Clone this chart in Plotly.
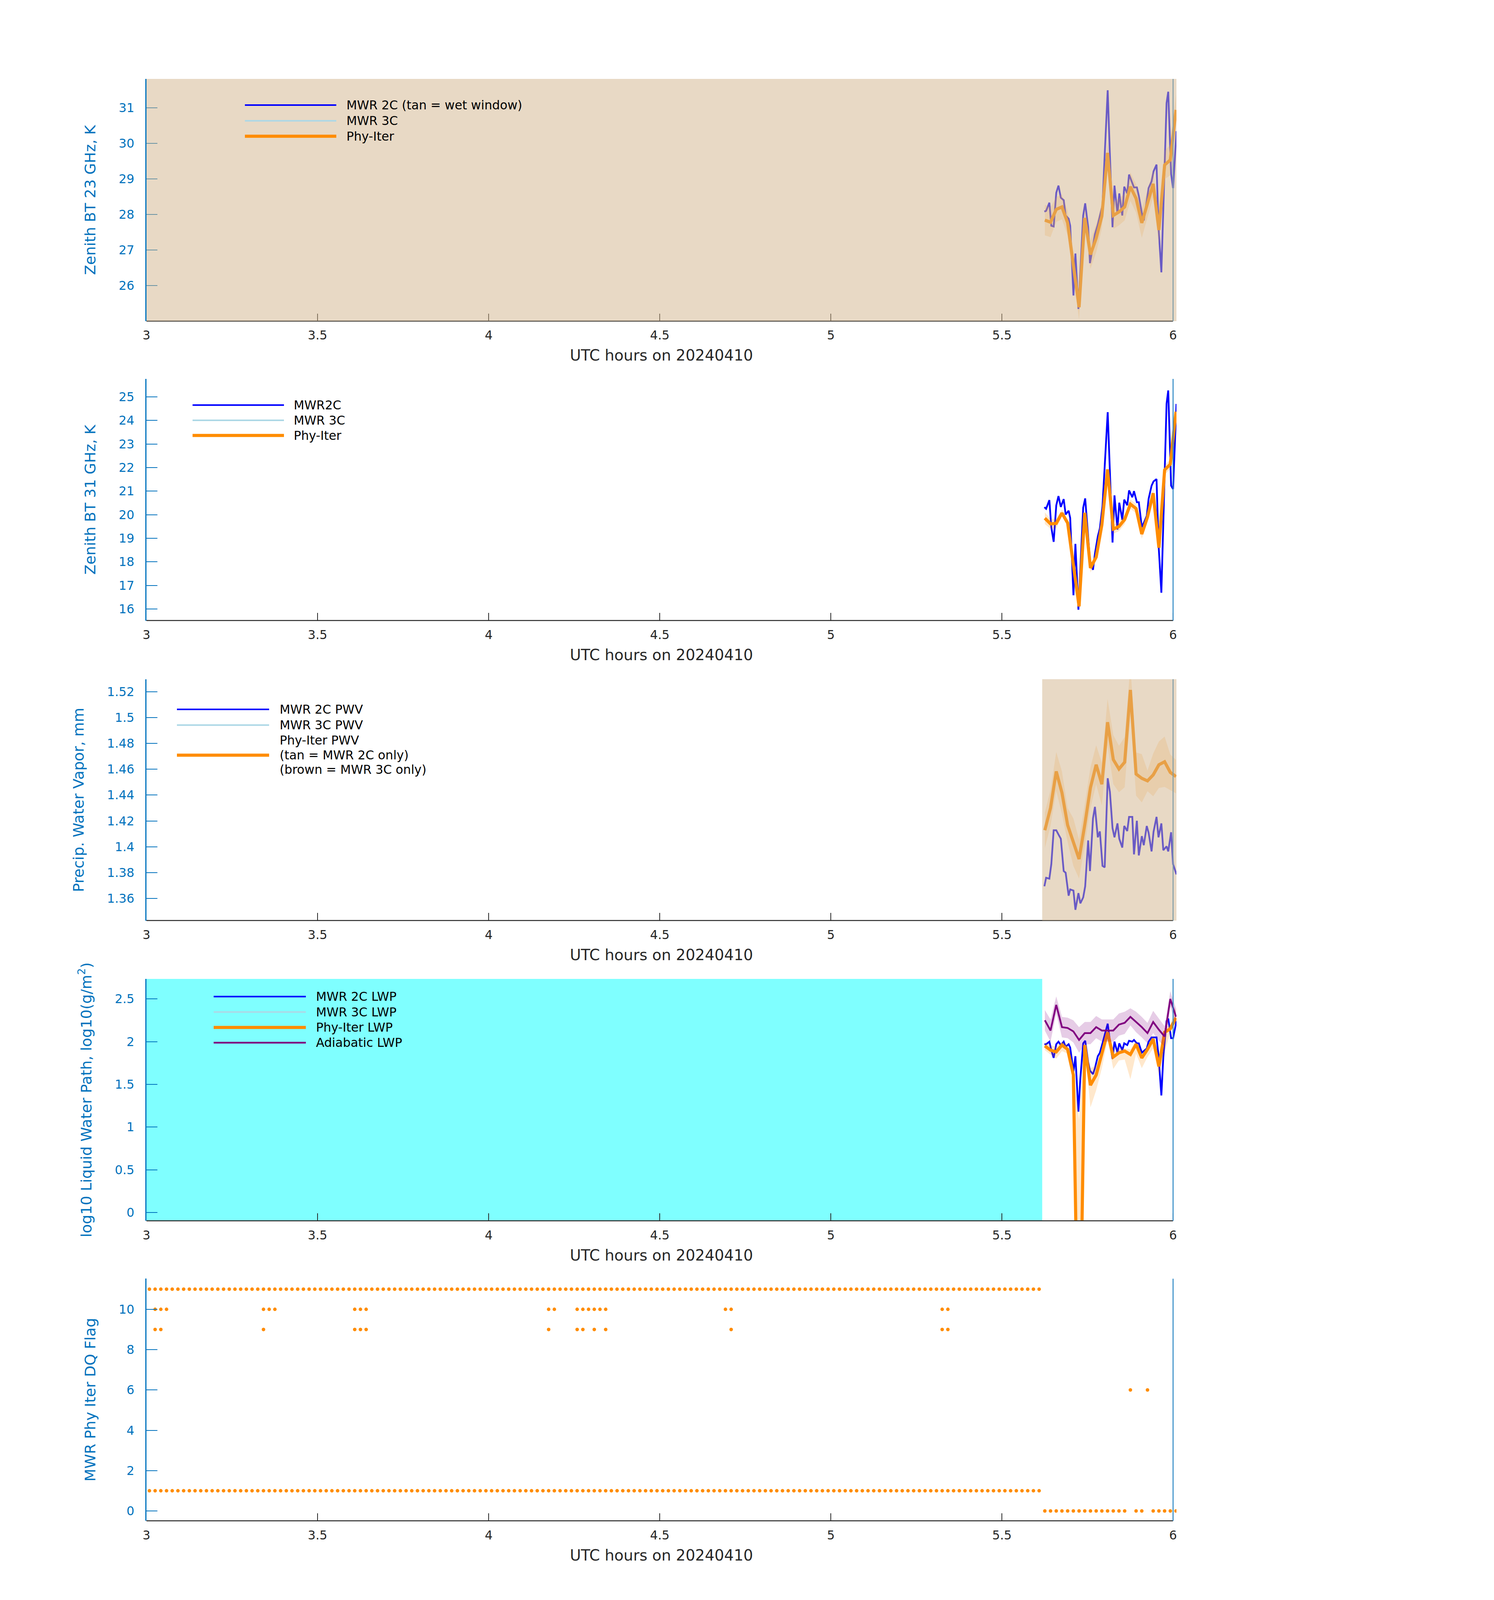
import plotly.graph_objects as go

W, H = 3825, 6000
FONT = "DejaVu Sans"
AX_BLUE = "#0072BD"
DARK = "#262626"
C_2C = "#0000FF"
C_3C = "#ADD8E6"
C_PHY = "#FF8C00"
C_ADI = "#800080"

# ---------------- data ----------------
# Phy-Iter retrieval times (UTC hours, 1-min cadence)
t_ret = [5.6253, 5.6419, 5.6586, 5.6753, 5.6919, 5.7086, 5.7253, 5.7419,
         5.7586, 5.7753, 5.7919, 5.8086, 5.8253, 5.8419, 5.8586, 5.8753,
         5.8919, 5.9086, 5.9253, 5.9419, 5.9586, 5.9753, 5.9919, 6.0086]
# MWR 2C sample times (UTC hours)
t_mwr = [5.6240, 5.6290, 5.6385, 5.6442, 5.6511, 5.6587, 5.6651, 5.6720, 5.6804, 5.6861,
         5.6948, 5.6994, 5.7089, 5.7146, 5.7234, 5.7291, 5.7374, 5.7432, 5.7519, 5.7572,
         5.7660, 5.7717, 5.7801, 5.7861, 5.7938, 5.8002, 5.8090, 5.8154, 5.8231, 5.8288,
         5.8375, 5.8428, 5.8516, 5.8573, 5.8661, 5.8714, 5.8809, 5.8858, 5.8942, 5.8999,
         5.9087, 5.9144, 5.9231, 5.9285, 5.9372, 5.9429, 5.9517, 5.9574, 5.9658, 5.9715,
         5.9810, 5.9859, 5.9943, 6.0000, 6.0099]

bt23_2c = [28.08, 28.10, 28.33, 27.68, 27.66, 28.61, 28.81, 28.47, 28.40, 27.97,
           27.88, 27.68, 25.72, 26.90, 25.34, 26.42, 27.97, 28.31, 27.64, 26.63,
           27.09, 27.44, 27.71, 27.95, 28.26, 29.67, 31.49, 29.67, 27.64, 28.81,
           28.02, 28.59, 27.97, 28.78, 28.59, 29.12, 28.90, 28.76, 28.76, 28.52,
           28.04, 27.83, 28.38, 28.74, 28.93, 29.21, 29.40, 27.66, 26.37, 28.14,
           31.13, 31.45, 29.14, 28.74, 30.34]
bt23_phy = [27.84, 27.78, 28.14, 28.21, 27.76, 26.61, 25.39, 27.90, 26.87, 27.33, 27.95, 29.73,
            27.97, 28.07, 28.21, 28.78, 28.45, 27.76, 28.29, 28.86, 27.56, 29.39, 29.53, 30.94]
bt23_phy_err = [0.43, 0.42, 0.35, 0.35, 0.35, 0.35, 0.35, 0.30, 0.40, 0.40, 0.35, 0.30,
                0.38, 0.38, 0.38, 0.40, 0.40, 0.42, 0.38, 0.38, 0.38, 0.40, 0.43, 0.45]

bt31_2c = [20.32, 20.25, 20.62, 19.47, 18.85, 20.40, 20.79, 20.33, 20.66, 20.01,
           20.17, 19.86, 16.58, 18.76, 15.97, 17.71, 20.30, 20.69, 19.15, 18.06,
           17.66, 18.35, 19.08, 19.42, 20.37, 22.04, 24.35, 21.81, 18.82, 20.82,
           19.37, 20.51, 19.78, 20.64, 20.40, 21.03, 20.74, 21.00, 20.53, 20.53,
           19.47, 19.65, 19.95, 20.67, 21.23, 21.41, 21.51, 18.78, 16.69, 19.65,
           24.71, 25.27, 21.23, 21.09, 24.70]
bt31_phy = [19.85, 19.61, 19.63, 20.07, 19.65, 17.92, 16.11, 20.08, 17.74, 18.20, 19.57, 21.92,
            19.39, 19.50, 19.80, 20.45, 20.26, 19.18, 19.90, 20.91, 18.60, 21.90, 22.14, 24.37]
bt31_phy_err = [0.25, 0.20, 0.20, 0.15, 0.15, 0.15, 0.10, 0.15, 0.20, 0.15, 0.15, 0.15,
                0.20, 0.20, 0.20, 0.20, 0.20, 0.20, 0.15, 0.20, 0.15, 0.20, 0.20, 0.20]

pwv_2c = [1.3694, 1.3760, 1.3753, 1.3865, 1.4128, 1.4128, 1.4095, 1.4062, 1.3812, 1.3799,
          1.3621, 1.3670, 1.3661, 1.3512, 1.3641, 1.3562, 1.3608, 1.3694, 1.4049, 1.3812,
          1.4220, 1.4309, 1.4073, 1.4119, 1.3852, 1.3841, 1.4530, 1.4425, 1.4144, 1.4073,
          1.4181, 1.4062, 1.3994, 1.4161, 1.4122, 1.4231, 1.4231, 1.3941, 1.4201, 1.3933,
          1.4082, 1.4012, 1.4161, 1.4109, 1.3964, 1.4115, 1.4231, 1.4073, 1.4181, 1.3973,
          1.4003, 1.3964, 1.4112, 1.3865, 1.3786]
pwv_phy = [1.4128, 1.4300, 1.4583, 1.4418, 1.4168, 1.4036, 1.3905, 1.4168, 1.4458, 1.4635,
           1.4484, 1.4964, 1.4675, 1.4602, 1.4655, 1.5214, 1.4563, 1.4530, 1.4510, 1.4556,
           1.4635, 1.4658, 1.4576, 1.4543]
pwv_phy_err = [0.0138, 0.0138, 0.0151, 0.0165, 0.0132, 0.0184, 0.0151, 0.0158, 0.0158, 0.0151,
               0.0165, 0.0180, 0.0190, 0.0180, 0.0194, 0.0190, 0.0167, 0.0187, 0.0080, 0.0165,
               0.0180, 0.0195, 0.0138, 0.0130]

lwp_2c = [1.97, 1.97, 2.00, 1.90, 1.81, 1.97, 2.00, 1.96, 2.00, 1.94,
          1.97, 1.93, 1.65, 1.83, 1.18, 1.57, 1.98, 2.01, 1.76, 1.66,
          1.62, 1.69, 1.83, 1.87, 1.98, 2.08, 2.21, 2.01, 1.80, 2.00,
          1.87, 1.98, 1.90, 1.98, 1.96, 2.01, 2.00, 2.02, 1.98, 1.98,
          1.87, 1.89, 1.92, 2.00, 2.05, 2.05, 2.05, 1.84, 1.37, 1.82,
          2.24, 2.27, 2.04, 2.04, 2.24]
lwp_phy = [1.95, 1.90, 1.88, 1.96, 1.91, 1.61, -2.40, 1.96, 1.49, 1.61, 1.86, 2.11,
           1.82, 1.87, 1.89, 1.85, 1.97, 1.81, 1.91, 2.03, 1.71, 2.11, 2.15, 2.28]
lwp_phy_hi = [1.99, 1.96, 1.94, 2.00, 1.96, 1.69, 1.09, 2.01, 1.69, 1.72, 1.91, 2.13,
              1.86, 1.92, 1.92, 1.91, 2.01, 1.84, 1.94, 2.08, 1.75, 2.16, 2.20, 2.40]
lwp_phy_lo = [1.90, 1.85, 1.80, 1.89, 1.86, 1.53, -2.60, 1.91, 1.23, 1.43, 1.69, 2.02,
              1.68, 1.78, 1.79, 1.56, 1.86, 1.69, 1.82, 1.92, 1.61, 1.88, 2.11, 2.24]
lwp_adi = [2.25, 2.13, 2.43, 2.17, 2.16, 2.12, 2.02, 2.10, 2.10, 2.17, 2.13, 2.13,
           2.13, 2.20, 2.22, 2.29, 2.23, 2.17, 2.10, 2.23, 2.14, 2.06, 2.50, 2.29]
lwp_adi_err = [0.12, 0.13, 0.10, 0.12, 0.12, 0.13, 0.15, 0.13, 0.13, 0.13, 0.13, 0.13,
               0.13, 0.13, 0.13, 0.10, 0.12, 0.12, 0.12, 0.13, 0.13, 0.12, 0.09, 0.10]

# DQ flags on the 1-minute grid starting at 03:00:31 UTC (181 minutes)
flag_t0 = 3.0086
flag11_idx = list(range(0, 157))
flag1_idx = list(range(0, 157))
flag10_idx = [1, 2, 3, 20, 21, 22, 36, 37, 38, 70, 71, 75, 76, 77, 78, 79, 80, 101, 102, 139, 140]
flag9_idx = [1, 2, 20, 36, 37, 38, 70, 75, 76, 78, 80, 102, 139, 140]
flag6_idx = [172, 175]
flag0_idx = [i for i in range(157, 181) if i not in (172, 175)]

# shaded windows (UTC hours)
wet_window_23 = [3.0, 6.0099]
tan_window_pwv = [5.6176, 6.0099]
cyan_window_lwp = [3.0, 5.6176]

x_ticks = [3, 3.5, 4, 4.5, 5, 5.5, 6]
x_ticktext = ["3", "3.5", "4", "4.5", "5", "5.5", "6"]

# ---------------- layout ----------------
X0, X1 = 375, 3012
XR = [3.0, 6.0099]

panels = [
    dict(top=296, bot=1204, yr=[25.0, 31.81], tv=[26, 27, 28, 29, 30, 31],
         tt=["26", "27", "28", "29", "30", "31"], title="Zenith BT 23 GHz, K"),
    dict(top=1421, bot=2327, yr=[15.51, 25.76], tv=list(range(16, 26)),
         tt=[str(v) for v in range(16, 26)], title="Zenith BT 31 GHz, K"),
    dict(top=2547, bot=3452, yr=[1.3429, 1.5297],
         tv=[1.36, 1.38, 1.40, 1.42, 1.44, 1.46, 1.48, 1.50, 1.52],
         tt=["1.36", "1.38", "1.4", "1.42", "1.44", "1.46", "1.48", "1.5", "1.52"],
         title="Precip. Water Vapor, mm"),
    dict(top=3671, bot=4578, yr=[-0.097, 2.734], tv=[0, 0.5, 1, 1.5, 2, 2.5],
         tt=["0", "0.5", "1", "1.5", "2", "2.5"],
         title="log10 Liquid Water Path, log10(g/m<sup>2</sup>)"),
    dict(top=4795, bot=5703, yr=[-0.49, 11.52], tv=[0, 2, 4, 6, 8, 10],
         tt=["0", "2", "4", "6", "8", "10"], title="MWR Phy Iter DQ Flag"),
]


def ax(k, kind):
    return (kind if k == 1 else f"{kind}{k}")


fig = go.Figure()
layout = dict(width=W, height=H, autosize=False, margin=dict(l=0, r=0, t=0, b=0, pad=0),
              paper_bgcolor="white", plot_bgcolor="rgba(0,0,0,0)",
              showlegend=False, font=dict(family=FONT, color=DARK))

for k, p in enumerate(panels, start=1):
    layout[ax(k, "xaxis")] = dict(
        domain=[X0 / W, X1 / W], range=XR, anchor=ax(k, "y"),
        showline=False, showgrid=False, zeroline=False,
        ticks="inside", ticklen=28, tickwidth=2, tickcolor=DARK,
        tickmode="array", tickvals=x_ticks, ticktext=x_ticktext,
        tickfont=dict(size=38, color=DARK, family=FONT), ticklabelstandoff=22,
        title=dict(text="UTC hours on 20240410", font=dict(size=47, color=DARK, family=FONT), standoff=30),
        automargin=False, fixedrange=True)
    layout[ax(k, "yaxis")] = dict(
        domain=[1 - p["bot"] / H, 1 - p["top"] / H], range=p["yr"], anchor=ax(k, "x"),
        showline=True, linecolor=AX_BLUE, linewidth=2.5, showgrid=False, zeroline=False,
        ticks="inside", ticklen=28, tickwidth=2, tickcolor=AX_BLUE,
        tickmode="array", tickvals=p["tv"], ticktext=p["tt"],
        tickfont=dict(size=38, color=AX_BLUE, family=FONT), ticklabelstandoff=22,
        title=dict(text=p["title"], font=dict(size=46, color=AX_BLUE, family=FONT), standoff=36),
        automargin=False, fixedrange=True)


def add_line(k, x, y, color, width):
    fig.add_trace(go.Scatter(x=x, y=y, mode="lines", line=dict(color=color, width=width),
                             xaxis=ax(k, "x"), yaxis=ax(k, "y"), hoverinfo="skip"))


def add_band(k, x, lo, hi, fill):
    fig.add_trace(go.Scatter(x=list(x) + list(x)[::-1], y=list(hi) + list(lo)[::-1],
                             mode="lines", line=dict(width=0), fill="toself", fillcolor=fill,
                             xaxis=ax(k, "x"), yaxis=ax(k, "y"), hoverinfo="skip"))


ORANGE_BAND = "rgba(255,140,0,0.2)"
PURPLE_BAND = "rgba(128,0,128,0.2)"

# Panel 1: 23 GHz
add_line(1, t_mwr, bt23_2c, C_2C, 4.5)
add_band(1, t_ret, [v - e for v, e in zip(bt23_phy, bt23_phy_err)],
         [v + e for v, e in zip(bt23_phy, bt23_phy_err)], ORANGE_BAND)
add_line(1, t_ret, bt23_phy, C_PHY, 8)

# Panel 2: 31 GHz
add_line(2, t_mwr, bt31_2c, C_2C, 4.5)
add_band(2, t_ret, [v - e for v, e in zip(bt31_phy, bt31_phy_err)],
         [v + e for v, e in zip(bt31_phy, bt31_phy_err)], ORANGE_BAND)
add_line(2, t_ret, bt31_phy, C_PHY, 8)

# Panel 3: PWV
add_line(3, t_mwr, pwv_2c, C_2C, 4.5)
add_band(3, t_ret, [v - e for v, e in zip(pwv_phy, pwv_phy_err)],
         [v + e for v, e in zip(pwv_phy, pwv_phy_err)], ORANGE_BAND)
add_line(3, t_ret, pwv_phy, C_PHY, 8)

# Panel 4: LWP
add_line(4, t_mwr, lwp_2c, C_2C, 4.5)
add_band(4, t_ret, lwp_phy_lo, lwp_phy_hi, ORANGE_BAND)
add_line(4, t_ret, lwp_phy, C_PHY, 8)
add_band(4, t_ret, [v - e for v, e in zip(lwp_adi, lwp_adi_err)],
         [v + e for v, e in zip(lwp_adi, lwp_adi_err)], PURPLE_BAND)
add_line(4, t_ret, lwp_adi, C_ADI, 4.5)

# Panel 5: DQ flags
for idx, val in [(flag11_idx, 11), (flag1_idx, 1), (flag10_idx, 10), (flag9_idx, 9),
                 (flag6_idx, 6), (flag0_idx, 0)]:
    fig.add_trace(go.Scatter(x=[flag_t0 + i / 60 for i in idx], y=[val] * len(idx),
                             mode="markers", marker=dict(color=C_PHY, size=9, line=dict(width=0)),
                             xaxis="x5", yaxis="y5", hoverinfo="skip"))

shapes = []
shapes.append(dict(type="rect", xref="x4", yref="y4 domain", x0=cyan_window_lwp[0], x1=cyan_window_lwp[1],
                   y0=0, y1=1, fillcolor="rgba(0,255,255,0.5)", line=dict(width=0), layer="below"))
for k in range(1, 6):
    shapes.append(dict(type="line", xref=ax(k, "x"), yref=ax(k, "y") + " domain", x0=3, x1=6, y0=0, y1=0,
                       line=dict(color=DARK, width=2.5), layer="above"))
    shapes.append(dict(type="line", xref=ax(k, "x"), yref=ax(k, "y") + " domain", x0=6, x1=6, y0=0, y1=1,
                       line=dict(color="#2A86C4", width=2.5), layer="above"))
# semi-transparent tan overlays drawn over the data
shapes.append(dict(type="rect", xref="x", yref="y domain", x0=wet_window_23[0] - 0.003, x1=wet_window_23[1],
                   y0=0, y1=1, fillcolor="rgba(210,180,140,0.5)", line=dict(width=0), layer="above"))
shapes.append(dict(type="rect", xref="x3", yref="y3 domain", x0=tan_window_pwv[0], x1=tan_window_pwv[1],
                   y0=0, y1=1, fillcolor="rgba(210,180,140,0.5)", line=dict(width=0), layer="above"))

annotations = []


def legend(x_line0, x_line1, x_text, rows):
    for y, label, color, width in rows:
        if color is not None:
            shapes.append(dict(type="line", xref="paper", yref="paper",
                               x0=x_line0 / W, x1=x_line1 / W, y0=1 - y / H, y1=1 - y / H,
                               line=dict(color=color, width=width), layer="above"))
        if label:
            annotations.append(dict(xref="paper", yref="paper", x=x_text / W, y=1 - y / H,
                                    text=label, showarrow=False, xanchor="left", yanchor="middle",
                                    font=dict(size=38, color="black", family=FONT)))


legend(627, 861, 885, [(394, "MWR 2C (tan = wet window)", C_2C, 4),
                       (453, "MWR 3C", C_3C, 4),
                       (511, "Phy-Iter", C_PHY, 8)])
legend(493, 727, 750, [(1519, "MWR2C", C_2C, 4),
                       (1576, "MWR 3C", C_3C, 4),
                       (1633, "Phy-Iter", C_PHY, 8)])
legend(453, 689, 714, [(2660, "MWR 2C PWV", C_2C, 4),
                       (2719, "MWR 3C PWV", C_3C, 4),
                       (2776, "Phy-Iter PWV", None, 0),
                       (2832, "(tan = MWR 2C only)", C_PHY, 8),
                       (2886, "(brown = MWR 3C only)", None, 0)])
legend(547, 783, 807, [(3737, "MWR 2C LWP", C_2C, 4),
                       (3795, "MWR 3C LWP", C_3C, 4),
                       (3853, "Phy-Iter LWP", C_PHY, 8),
                       (3910, "Adiabatic LWP", C_ADI, 4.5)])

layout["shapes"] = shapes
layout["annotations"] = annotations
fig.update_layout(**layout)

# Remove the default page margin and, if the window is shorter than the
# 6000 px design height, fit the figure into the visible window (vertical
# offsets are scaled with the height, text is shrunk moderately).
fit_js = """
document.documentElement.style.margin = '0';
document.body.style.margin = '0';
document.documentElement.style.overflow = 'hidden';
document.body.style.overflow = 'hidden';
var gd = document.getElementById('{plot_id}');
var W0 = %d, H0 = %d;
var w = Math.min(window.innerWidth || W0, W0), h = Math.min(window.innerHeight || H0, H0);
var s = h / H0, fs = Math.sqrt(s);
var upd = {width: w, height: h};
if (s < 0.999) {
  for (var k = 1; k <= 5; k++) {
    var xa = (k === 1) ? 'xaxis' : 'xaxis' + k;
    var ya = (k === 1) ? 'yaxis' : 'yaxis' + k;
    var X = gd.layout[xa], Y = gd.layout[ya];
    upd[xa + '.tickfont.size'] = X.tickfont.size * fs;
    upd[xa + '.title.font.size'] = X.title.font.size * fs;
    upd[xa + '.ticklabelstandoff'] = Math.round(X.ticklabelstandoff * s);
    upd[xa + '.title.standoff'] = X.title.standoff * s;
    upd[xa + '.ticklen'] = X.ticklen * s;
    upd[ya + '.tickfont.size'] = Y.tickfont.size * fs;
    upd[ya + '.title.font.size'] = Y.title.font.size * fs;
    upd[ya + '.title.standoff'] = Y.title.standoff + 12;
  }
  for (var i = 0; i < gd.layout.annotations.length; i++) {
    upd['annotations[' + i + '].font.size'] = gd.layout.annotations[i].font.size * fs;
  }
}
Plotly.relayout(gd, upd);
""" % (W, H)
fig.write_html("out.html", post_script=fit_js, config={"displayModeBar": False})
